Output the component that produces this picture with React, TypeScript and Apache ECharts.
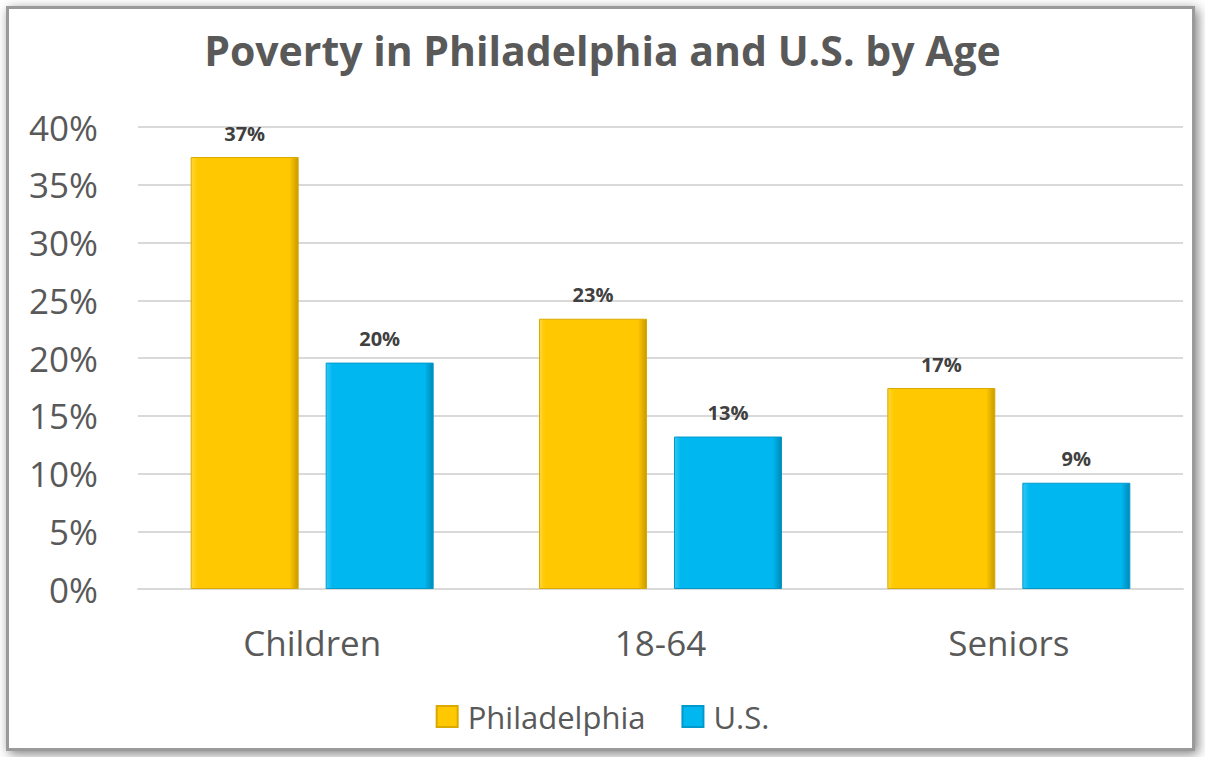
import React, { useEffect, useRef } from "react";
import * as echarts from "echarts";

const categories = ["Children", "18-64", "Seniors"];
const philadelphia = [37.4, 23.4, 17.4];
const us = [19.6, 13.2, 9.2];
const philaLabels = ["37%", "23%", "17%"];
const usLabels = ["20%", "13%", "9%"];

const font = "'Open Sans', 'Noto Sans', sans-serif";

function barColor(main: string, light: string, dark: string) {
  return new echarts.graphic.LinearGradient(0, 0, 1, 0, [
    { offset: 0, color: light },
    { offset: 0.06, color: main },
    { offset: 0.92, color: main },
    { offset: 1, color: dark },
  ]);
}

export default function App() {
  const ref = useRef<HTMLDivElement>(null);
  useEffect(() => {
    const chart = echarts.init(ref.current!, null, { renderer: "svg" });
    const yellow = barColor("#FFC800", "#FFD633", "#C89A00");
    const blue = barColor("#00B7EF", "#33C8F5", "#0089B8");
    chart.setOption({
      animation: false,
      backgroundColor: "#ffffff",
      graphic: [
        {
          type: "rect",
          left: 6,
          top: 6,
          shape: { width: 1186, height: 742 },
          style: {
            fill: "#ffffff",
            stroke: "#9a9a9a",
            lineWidth: 3,
            shadowBlur: 12,
            shadowColor: "rgba(0,0,0,0.5)",
            shadowOffsetX: 3,
            shadowOffsetY: 3,
          },
          z: -10,
        },
      ],
      title: {
        text: "Poverty in Philadelphia and U.S. by Age",
        left: "center",
        top: 24,
        textStyle: {
          fontFamily: font,
          fontWeight: "bold",
          fontSize: 41,
          color: "#595959",
        },
      },
      legend: {
        bottom: 20,
        left: "center",
        itemWidth: 21,
        itemHeight: 21,
        itemGap: 36,
        icon: "rect",
        textStyle: {
          fontFamily: font,
          fontSize: 31,
          color: "#595959",
          padding: [0, 0, 0, 5],
        },
        data: [
          { name: "Philadelphia", itemStyle: { color: "#FFC800" } },
          { name: "U.S.", itemStyle: { color: "#00B7EF" } },
        ],
      },
      grid: { left: 138, right: 22, top: 127, bottom: 168, containLabel: false },
      xAxis: {
        type: "category",
        data: categories,
        axisLine: { lineStyle: { color: "#d9d9d9", width: 2 } },
        axisTick: { show: false },
        axisLabel: {
          fontFamily: font,
          fontSize: 35,
          color: "#595959",
          margin: 36,
        },
      },
      yAxis: {
        type: "value",
        min: 0,
        max: 40,
        interval: 5,
        axisLine: { show: false },
        axisTick: { show: false },
        splitLine: { lineStyle: { color: "#d9d9d9", width: 2 } },
        axisLabel: {
          formatter: "{value}%",
          fontFamily: font,
          fontSize: 35,
          color: "#595959",
          margin: 40,
        },
      },
      series: [
        {
          name: "Philadelphia",
          type: "bar",
          data: philadelphia,
          barWidth: 108,
          barGap: "25%",
          itemStyle: { color: yellow, borderColor: "#D9A900", borderWidth: 1 },
          label: {
            show: true,
            position: "top",
            distance: 14,
            formatter: (p: any) => philaLabels[p.dataIndex],
            fontFamily: font,
            fontWeight: "bold",
            fontSize: 20,
            color: "#404040",
          },
        },
        {
          name: "U.S.",
          type: "bar",
          data: us,
          barWidth: 108,
          itemStyle: { color: blue, borderColor: "#0099CC", borderWidth: 1 },
          label: {
            show: true,
            position: "top",
            distance: 14,
            formatter: (p: any) => usLabels[p.dataIndex],
            fontFamily: font,
            fontWeight: "bold",
            fontSize: 20,
            color: "#404040",
          },
        },
      ],
    });
    return () => chart.dispose();
  }, []);
  return (
    <div
      ref={ref}
      style={{ position: "absolute", left: 0, top: 0, width: 1205, height: 757 }}
    />
  );
}
